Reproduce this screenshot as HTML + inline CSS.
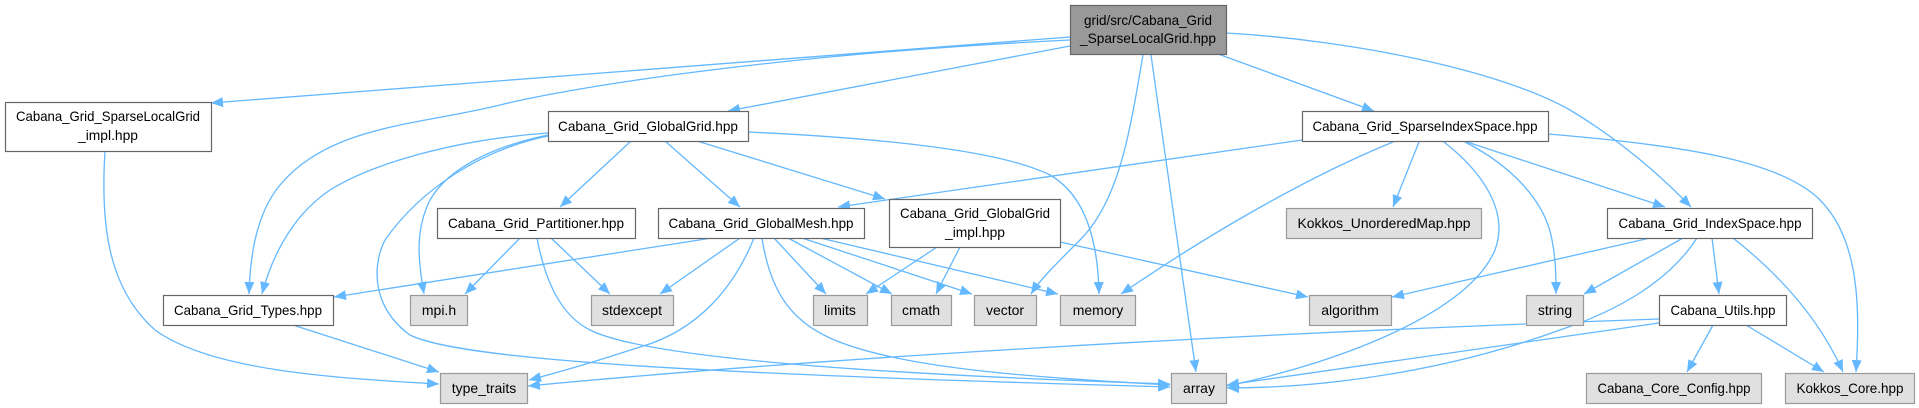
<!DOCTYPE html>
<html><head><meta charset="utf-8"><style>
html,body{margin:0;padding:0;background:#fff;}
svg{display:block;}
text{font-family:"Liberation Sans",sans-serif;font-size:14px;fill:#000;}
</style></head><body>
<svg width="1919" height="408" viewBox="0 0 1919 408" xmlns="http://www.w3.org/2000/svg">
<defs>
<marker id="a" markerUnits="userSpaceOnUse" markerWidth="13" markerHeight="10" refX="12" refY="5" orient="auto">
<path d="M0,0 L12,5 L0,10 z" fill="#63b8ff"/>
</marker>
</defs>
<g fill="none" stroke="#63b8ff" stroke-width="1.3" marker-end="url(#a)">
<!-- root edges -->
<path d="M1070,37 L211,103"/>
<path d="M1070,40 C760,55 560,90 500,105 C420,125 330,125 280,185 C255,215 250,260 249,294"/>
<path d="M1070,46 L728,111"/>
<path d="M1143,55 C1130,130 1120,200 1080,240 C1050,270 1040,280 1031,294"/>
<path d="M1151,55 L1196,372"/>
<path d="M1218,54 L1374,111"/>
<path d="M1226,33 C1350,40 1500,70 1570,110 C1620,140 1660,175 1691,207"/>
<!-- impl -->
<path d="M105,151 C100,230 110,290 155,330 C210,370 330,378 439,384"/>
<!-- GlobalGrid -->
<path d="M631,141 L560,207"/>
<path d="M665,141 L740,207"/>
<path d="M697,141 L885,199"/>
<path d="M748,132 C880,138 1000,150 1050,175 C1085,195 1098,240 1099,294"/>
<path d="M548,133 C450,140 370,165 330,190 C300,210 275,245 262,294"/>
<path d="M548,135 C500,145 450,165 430,200 C415,230 418,260 424,294"/>
<path d="M548,136 C480,150 420,190 385,240 C370,270 375,310 410,335 C460,360 700,374 1170,387"/>
<!-- Partitioner -->
<path d="M520,238 L465,294"/>
<path d="M551,238 L610,294"/>
<path d="M537,238 C545,280 560,315 590,330 C650,360 900,375 1170,384"/>
<!-- GlobalMesh -->
<path d="M712,238 L334,297"/>
<path d="M740,238 L660,294"/>
<path d="M754,238 C735,285 700,330 640,347 C600,360 560,372 529,380"/>
<path d="M774,238 L826,294"/>
<path d="M788,238 L892,294"/>
<path d="M802,238 L972,294"/>
<path d="M820,238 L1058,294"/>
<path d="M762,238 C770,290 790,320 830,338 C900,370 1050,378 1170,385"/>
<!-- GlobalGrid_impl -->
<path d="M937,247 L866,294"/>
<path d="M960,247 L936,294"/>
<path d="M1060,242 L1308,297"/>
<!-- SparseIndexSpace -->
<path d="M1302,140 L838,207"/>
<path d="M1393,142 C1300,180 1200,240 1121,294"/>
<path d="M1419,142 L1393,207"/>
<path d="M1444,142 C1480,170 1510,210 1495,250 C1470,310 1350,360 1227,386"/>
<path d="M1465,142 C1510,165 1545,200 1552,240 C1556,260 1556,280 1556,294"/>
<path d="M1467,142 L1665,207"/>
<path d="M1548,134 C1680,145 1780,160 1820,200 C1860,240 1860,310 1856,372"/>
<!-- IndexSpace -->
<path d="M1650,238 L1392,297"/>
<path d="M1683,238 L1584,294"/>
<path d="M1697,238 C1670,280 1620,310 1560,330 C1450,370 1330,388 1227,388"/>
<path d="M1712,238 L1719,294"/>
<path d="M1733,238 C1780,275 1820,320 1843,372"/>
<!-- Utils -->
<path d="M1659,319 C1200,335 800,360 528,386"/>
<path d="M1659,323 L1227,385"/>
<path d="M1713,325 L1687,372"/>
<path d="M1746,325 L1824,372"/>
<!-- Types -->
<path d="M293,325 L439,372"/>
</g>
<g stroke-width="1.2">
<rect x="1070.5" y="5.5" width="156" height="49" fill="#999" stroke="#666"/>
<rect x="5.5" y="102.5" width="206" height="49" fill="#fff" stroke="#666"/>
<rect x="548.5" y="111.5" width="200" height="30" fill="#fff" stroke="#666"/>
<rect x="1302.5" y="111.5" width="246" height="30" fill="#fff" stroke="#666"/>
<rect x="437.5" y="208.5" width="198" height="30" fill="#fff" stroke="#666"/>
<rect x="658.5" y="208.5" width="206" height="30" fill="#fff" stroke="#666"/>
<rect x="889.5" y="199.5" width="171" height="48" fill="#fff" stroke="#666"/>
<rect x="1286.5" y="208.5" width="195" height="30" fill="#e0e0e0" stroke="#999"/>
<rect x="1607.5" y="208.5" width="205" height="30" fill="#fff" stroke="#666"/>
<rect x="163.5" y="295.5" width="170" height="30" fill="#fff" stroke="#666"/>
<rect x="410.5" y="295.5" width="57" height="30" fill="#e0e0e0" stroke="#999"/>
<rect x="591.5" y="295.5" width="82" height="30" fill="#e0e0e0" stroke="#999"/>
<rect x="813.5" y="295.5" width="54" height="30" fill="#e0e0e0" stroke="#999"/>
<rect x="891.5" y="295.5" width="60" height="30" fill="#e0e0e0" stroke="#999"/>
<rect x="974.5" y="295.5" width="62" height="30" fill="#e0e0e0" stroke="#999"/>
<rect x="1060.5" y="295.5" width="75" height="30" fill="#e0e0e0" stroke="#999"/>
<rect x="1309.5" y="295.5" width="82" height="30" fill="#e0e0e0" stroke="#999"/>
<rect x="1526.5" y="295.5" width="57" height="30" fill="#e0e0e0" stroke="#999"/>
<rect x="1659.5" y="295.5" width="127" height="30" fill="#fff" stroke="#666"/>
<rect x="440.5" y="373.5" width="87" height="30" fill="#e0e0e0" stroke="#999"/>
<rect x="1171.5" y="373.5" width="55" height="30" fill="#e0e0e0" stroke="#999"/>
<rect x="1586.5" y="373.5" width="175" height="30" fill="#e0e0e0" stroke="#999"/>
<rect x="1785.5" y="373.5" width="129" height="30" fill="#e0e0e0" stroke="#999"/>
</g>
<g text-anchor="middle" lengthAdjust="spacingAndGlyphs">
<text x="1148" y="25" textLength="128" lengthAdjust="spacingAndGlyphs">grid/src/Cabana_Grid</text>
<text x="1148" y="43" textLength="136" lengthAdjust="spacingAndGlyphs">_SparseLocalGrid.hpp</text>
<text x="108" y="121" textLength="184" lengthAdjust="spacingAndGlyphs">Cabana_Grid_SparseLocalGrid</text>
<text x="108" y="140" textLength="60" lengthAdjust="spacingAndGlyphs">_impl.hpp</text>
<text x="648" y="131" textLength="180" lengthAdjust="spacingAndGlyphs">Cabana_Grid_GlobalGrid.hpp</text>
<text x="1425" y="131" textLength="225" lengthAdjust="spacingAndGlyphs">Cabana_Grid_SparseIndexSpace.hpp</text>
<text x="536" y="228" textLength="176" lengthAdjust="spacingAndGlyphs">Cabana_Grid_Partitioner.hpp</text>
<text x="761" y="228" textLength="185" lengthAdjust="spacingAndGlyphs">Cabana_Grid_GlobalMesh.hpp</text>
<text x="975" y="218" textLength="150" lengthAdjust="spacingAndGlyphs">Cabana_Grid_GlobalGrid</text>
<text x="975" y="237" textLength="60" lengthAdjust="spacingAndGlyphs">_impl.hpp</text>
<text x="1384" y="228" textLength="173" lengthAdjust="spacingAndGlyphs">Kokkos_UnorderedMap.hpp</text>
<text x="1710" y="228" textLength="183" lengthAdjust="spacingAndGlyphs">Cabana_Grid_IndexSpace.hpp</text>
<text x="248" y="315" textLength="148" lengthAdjust="spacingAndGlyphs">Cabana_Grid_Types.hpp</text>
<text x="439" y="315">mpi.h</text>
<text x="632" y="315">stdexcept</text>
<text x="840" y="315">limits</text>
<text x="921" y="315">cmath</text>
<text x="1005" y="315">vector</text>
<text x="1098" y="315">memory</text>
<text x="1350" y="315">algorithm</text>
<text x="1555" y="315">string</text>
<text x="1723" y="315" textLength="105" lengthAdjust="spacingAndGlyphs">Cabana_Utils.hpp</text>
<text x="484" y="393">type_traits</text>
<text x="1199" y="393">array</text>
<text x="1674" y="393" textLength="153" lengthAdjust="spacingAndGlyphs">Cabana_Core_Config.hpp</text>
<text x="1850" y="393" textLength="107" lengthAdjust="spacingAndGlyphs">Kokkos_Core.hpp</text>
</g>
</svg>
</body></html>
